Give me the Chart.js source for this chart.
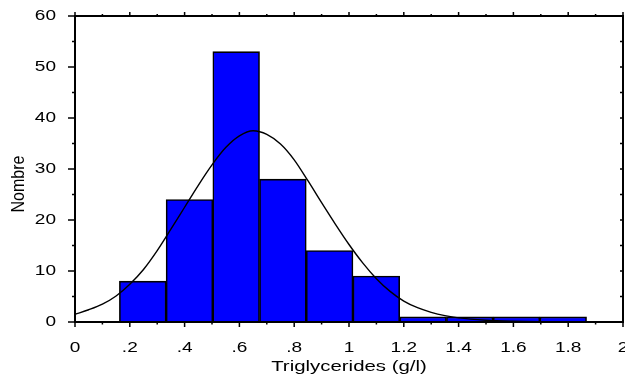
<!DOCTYPE html>
<html><head><meta charset="utf-8">
<script src="https://cdn.jsdelivr.net/npm/chart.js@4.4.1/dist/chart.umd.min.js"></script>
<style>html,body{margin:0;padding:0;background:#fff;overflow:hidden}#wrap{width:625px;height:383px;position:relative}canvas{display:block}</style>
</head><body><div id="wrap"><canvas id="c" width="625" height="383"></canvas></div>
<script>
// ---- data ----
const binStarts = [0.162, 0.3325, 0.503, 0.6735, 0.844, 1.0145, 1.185, 1.3555, 1.526, 1.6965];
const binWidth = 0.1705;
const counts = [8, 24, 53, 28, 14, 9, 1, 1, 1, 1];

const curveX = [0, 0.05, 0.1, 0.15, 0.2, 0.25, 0.3, 0.35, 0.4, 0.45, 0.5, 0.55, 0.6, 0.65, 0.7, 0.75, 0.8, 0.85, 0.9, 0.95, 1.0, 1.05, 1.1, 1.15, 1.2, 1.25, 1.3, 1.35, 1.4, 1.5, 1.6, 1.7, 1.8, 2.0];
const curveY = [1.5, 2.4, 3.5, 5.1, 7.4, 10.3, 14.0, 18.2, 22.5, 26.8, 30.8, 34.2, 36.5, 37.5, 36.8, 34.9, 31.8, 27.7, 23.4, 19.2, 15.2, 11.6, 8.5, 6.0, 4.1, 2.8, 1.9, 1.25, 0.8, 0.35, 0.15, 0.06, 0.02, 0];

const xTickValues = [0, 0.2, 0.4, 0.6, 0.8, 1.0, 1.2, 1.4, 1.6, 1.8, 2.0];
const xTickLabels = ['0', '.2', '.4', '.6', '.8', '1', '1.2', '1.4', '1.6', '1.8', '2'];
const xMinorValues = [0.1, 0.3, 0.5, 0.7, 0.9, 1.1, 1.3, 1.5, 1.7, 1.9];
const yTickValues = [0, 10, 20, 30, 40, 50, 60];
const yMinorValues = [5, 15, 25, 35, 45, 55];

const xTitle = 'Triglycerides (g/l)';
const yTitle = 'Nombre';

// ---- chart ----
Chart.defaults.font.family = "'Liberation Sans', Arial, sans-serif";
Chart.defaults.color = '#000';
const STRETCH_H = 1.36;   // reference text is horizontally widened
const STRETCH_V = 1.15;

const framePlugin = {
  id: 'frame',
  beforeInit(chart) {
    const ctx = chart.ctx;
    if (ctx.__wide) return;
    const orig = ctx.fillText;
    ctx.fillText = function (t, x, y, mw) {
      const m = this.getTransform();
      const rotated = Math.abs(m.b) > 1e-6;
      this.save();
      this.translate(x, y);
      if (rotated) this.scale(1, STRETCH_V); else this.scale(STRETCH_H, 1);
      if (mw === undefined) orig.call(this, t, 0, 0);
      else orig.call(this, t, 0, 0, mw / (rotated ? 1 : STRETCH_H));
      this.restore();
    };
    ctx.__wide = true;
  },
  afterUpdate(chart) {
    const s = chart.scales.y;
    if (s && !s.__patched) {
      const orig = s.drawTitle;
      s.drawTitle = function () {
        const c = this.ctx;
        c.save();
        c.translate(0, 15);
        orig.call(this);
        c.restore();
      };
      s.__patched = true;
    }
  },
  afterDraw(chart) {
    const ctx = chart.ctx;
    const xs = chart.scales.x, ys = chart.scales.y;
    const L = xs.getPixelForValue(0), R = xs.getPixelForValue(2);
    const B = ys.getPixelForValue(0), T = ys.getPixelForValue(60);
    ctx.save();
    ctx.strokeStyle = '#000';
    ctx.lineWidth = 2;
    ctx.lineCap = 'square';
    ctx.beginPath();
    ctx.moveTo(L, T); ctx.lineTo(R, T); ctx.lineTo(R, B); ctx.lineTo(L, B); ctx.closePath();
    ctx.stroke();
    ctx.lineCap = 'butt';
    ctx.lineWidth = 1.5;
    ctx.beginPath();
    yTickValues.forEach(v => { const p = ys.getPixelForValue(v); ctx.moveTo(L - 7, p); ctx.lineTo(L, p); });
    yMinorValues.forEach(v => { const p = ys.getPixelForValue(v); ctx.moveTo(L - 3, p); ctx.lineTo(L, p); });
    yTickValues.concat(yMinorValues).forEach(v => { const p = ys.getPixelForValue(v); ctx.moveTo(R - 3, p); ctx.lineTo(R, p); });
    xTickValues.forEach(v => { const p = xs.getPixelForValue(v); ctx.moveTo(p, B); ctx.lineTo(p, B + 5); ctx.moveTo(p, T); ctx.lineTo(p, T - 4); });
    xMinorValues.forEach(v => { const p = xs.getPixelForValue(v); ctx.moveTo(p, B); ctx.lineTo(p, B + 2.5); ctx.moveTo(p, T); ctx.lineTo(p, T - 2); });
    ctx.stroke();
    ctx.restore();
  }
};

const barData = binStarts.map((s, i) => ({ x: s + binWidth / 2, y: counts[i] }));
const curveData = curveX.map((x, i) => ({ x: x, y: curveY[i] }));

new Chart(document.getElementById('c'), {
  type: 'bar',
  data: {
    datasets: [
      {
        type: 'line', data: curveData, borderColor: '#000', borderWidth: 1.4,
        pointRadius: 0, cubicInterpolationMode: 'monotone', fill: false, order: 0
      },
      {
        type: 'bar', data: barData, backgroundColor: '#0000ff', borderColor: '#000',
        borderWidth: 1.6, barPercentage: 1, categoryPercentage: 1, order: 1
      }
    ]
  },
  options: {
    responsive: false,
    animation: false,
    layout: { padding: { top: 16, right: 2, left: 0, bottom: 0 } },
    plugins: { legend: { display: false }, tooltip: { enabled: false } },
    scales: {
      x: {
        type: 'linear', min: 0, max: 2, offset: false,
        grid: { display: false, drawTicks: false, offset: false }, border: { display: false },
        afterBuildTicks: s => { s.ticks = xTickValues.map(v => ({ value: v })); },
        ticks: { autoSkip: false, maxRotation: 0, padding: 18, font: { size: 14 },
          callback: (v, i) => xTickLabels[i] },
        title: { display: true, text: xTitle, font: { size: 15 }, padding: { top: 0, bottom: 7 } },
        afterFit: s => { s.height = 61; s.paddingLeft = 0; s.paddingRight = 0; }
      },
      y: {
        type: 'linear', min: 0, max: 60,
        grid: { display: false, drawTicks: false }, border: { display: false },
        afterBuildTicks: s => { s.ticks = yTickValues.map(v => ({ value: v })); },
        ticks: { padding: 19, font: { size: 14 } },
        title: { display: true, text: yTitle, font: { size: 16 }, padding: { top: 9, bottom: 0 } },
        afterFit: s => { s.width = 75; s.paddingTop = 0; s.paddingBottom = 0; }
      }
    }
  },
  plugins: [framePlugin]
});
</script>
</body></html>
